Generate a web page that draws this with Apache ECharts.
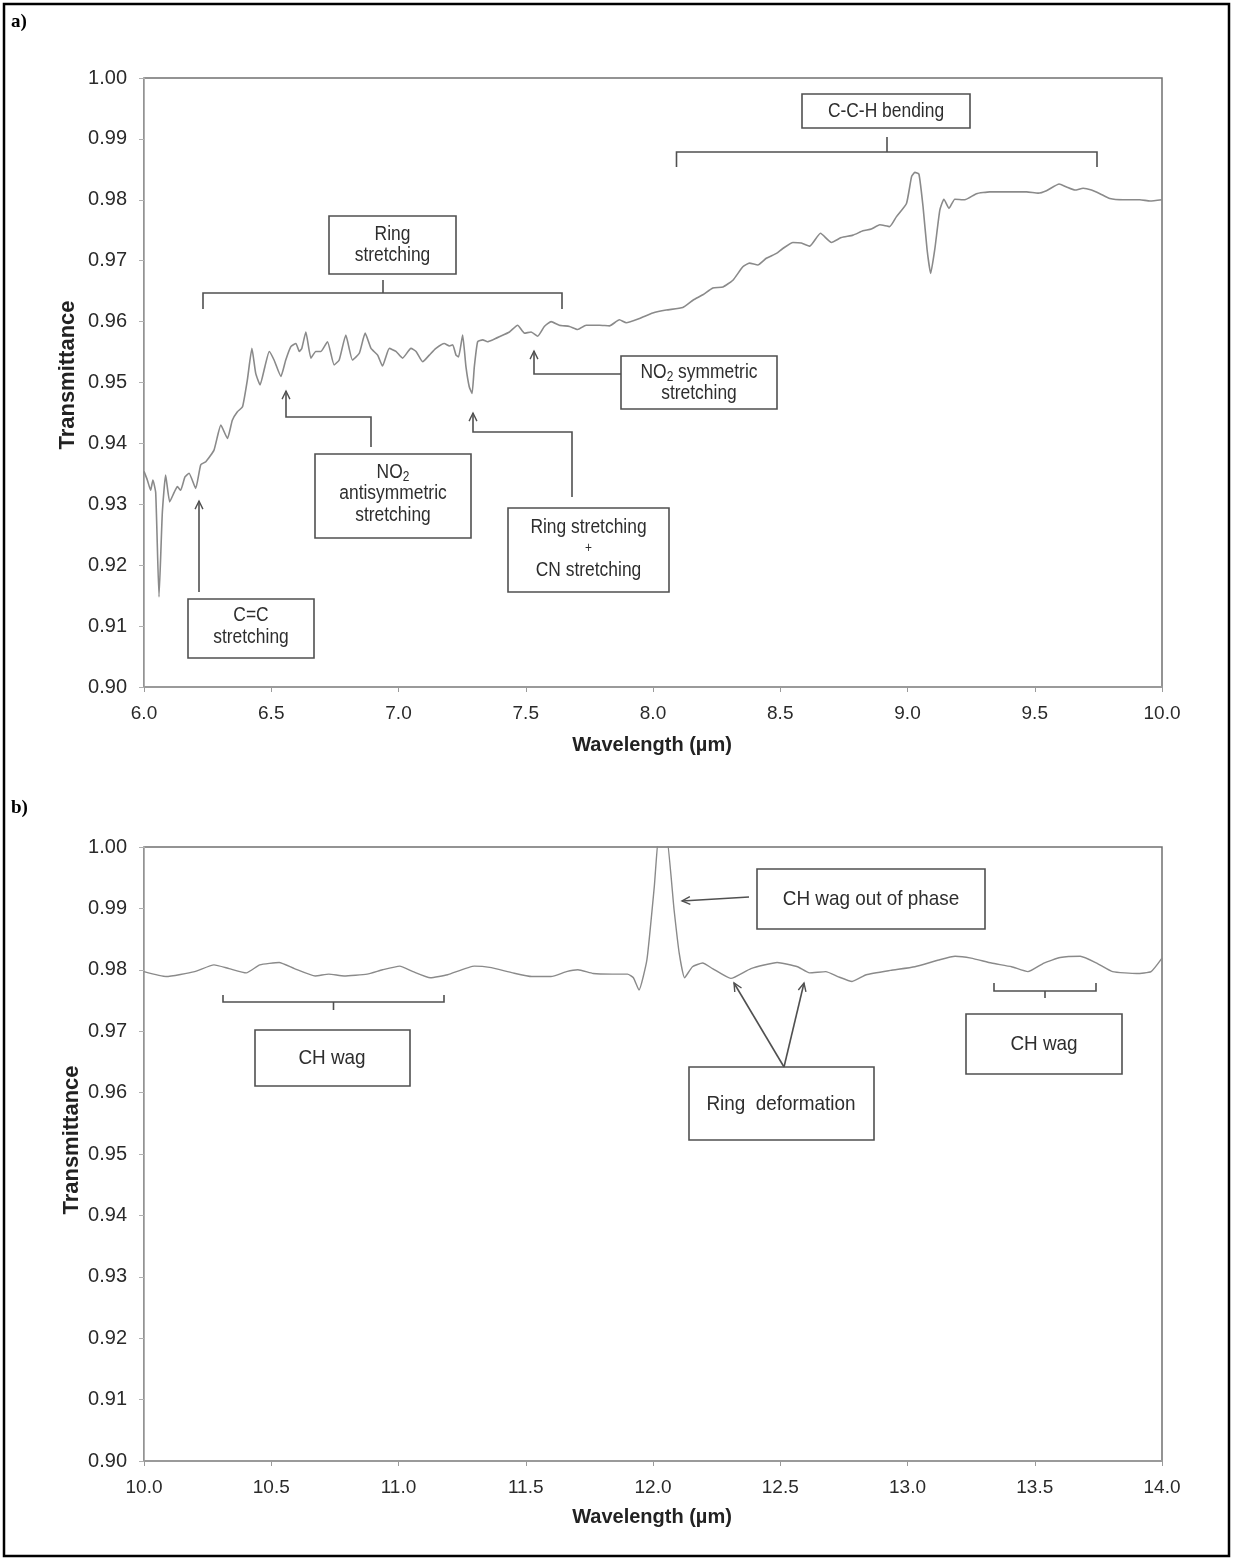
<!DOCTYPE html>
<html><head><meta charset="utf-8">
<script src="https://cdn.jsdelivr.net/npm/echarts@6/dist/echarts.min.js"></script>
<style>html,body{margin:0;padding:0;background:#fff}#c{width:1233px;height:1558px}</style>
</head><body><div id="c"></div>
<script>
// ---- data (wavelength in µm, transmittance) ----
const wlA = [6.000,6.013,6.026,6.035,6.046,6.059,6.072,6.085,6.101,6.118,6.131,6.144,6.161,6.177,6.203,6.223,6.243,6.275,6.302,6.328,6.347,6.367,6.387,6.406,6.424,6.439,6.456,6.475,6.492,6.511,6.538,6.557,6.577,6.597,6.610,6.620,6.636,6.656,6.675,6.695,6.721,6.747,6.767,6.793,6.819,6.846,6.869,6.892,6.918,6.937,6.964,6.990,7.016,7.049,7.069,7.095,7.121,7.147,7.180,7.200,7.213,7.226,7.236,7.252,7.265,7.278,7.289,7.298,7.311,7.331,7.350,7.370,7.396,7.436,7.468,7.495,7.521,7.547,7.573,7.600,7.632,7.672,7.704,7.737,7.790,7.829,7.868,7.895,7.947,7.999,8.052,8.117,8.157,8.196,8.235,8.275,8.314,8.353,8.379,8.412,8.445,8.485,8.510,8.550,8.583,8.616,8.658,8.701,8.740,8.786,8.825,8.858,8.891,8.930,8.956,8.996,9.016,9.029,9.045,9.061,9.077,9.091,9.107,9.127,9.143,9.163,9.186,9.225,9.271,9.323,9.415,9.468,9.513,9.546,9.596,9.625,9.658,9.690,9.723,9.756,9.795,9.848,9.913,9.953,10.000];
const tA = [0.9354,0.9340,0.9323,0.9340,0.9319,0.9148,0.9286,0.9348,0.9304,0.9319,0.9329,0.9323,0.9345,0.9351,0.9326,0.9365,0.9370,0.9389,0.9430,0.9408,0.9438,0.9452,0.9460,0.9504,0.9556,0.9515,0.9496,0.9526,0.9551,0.9537,0.9510,0.9537,0.9559,0.9564,0.9551,0.9556,0.9583,0.9540,0.9551,0.9551,0.9567,0.9529,0.9537,0.9578,0.9537,0.9548,0.9581,0.9556,0.9545,0.9527,0.9556,0.9551,0.9540,0.9556,0.9551,0.9534,0.9545,0.9556,0.9564,0.9560,0.9562,0.9545,0.9542,0.9578,0.9526,0.9493,0.9482,0.9526,0.9567,0.9570,0.9567,0.9570,0.9575,0.9583,0.9594,0.9581,0.9583,0.9576,0.9592,0.9600,0.9594,0.9592,0.9587,0.9594,0.9594,0.9593,0.9603,0.9598,0.9605,0.9614,0.9619,0.9623,0.9635,0.9644,0.9655,0.9657,0.9668,0.9690,0.9696,0.9693,0.9704,0.9712,0.9720,0.9730,0.9729,0.9724,0.9745,0.9730,0.9738,0.9742,0.9749,0.9752,0.9759,0.9756,0.9772,0.9794,0.9838,0.9845,0.9842,0.9789,0.9718,0.9679,0.9718,0.9783,0.9801,0.9786,0.9801,0.9800,0.9810,0.9813,0.9813,0.9813,0.9811,0.9815,0.9826,0.9821,0.9816,0.9819,0.9816,0.9810,0.9802,0.9800,0.9800,0.9798,0.9800];
const wlB = [10.000,10.087,10.199,10.275,10.334,10.402,10.455,10.531,10.591,10.673,10.726,10.786,10.877,10.937,11.005,11.057,11.125,11.193,11.298,11.358,11.449,11.524,11.599,11.660,11.705,11.765,11.840,11.900,11.923,11.945,11.976,12.005,12.026,12.049,12.083,12.103,12.124,12.155,12.195,12.234,12.306,12.385,12.488,12.568,12.615,12.679,12.726,12.782,12.838,12.933,13.029,13.123,13.187,13.250,13.330,13.409,13.473,13.536,13.600,13.679,13.743,13.806,13.901,13.957,14.000];
const tB = [0.9797,0.9789,0.9797,0.9808,0.9802,0.9795,0.9808,0.9812,0.9802,0.9790,0.9793,0.9790,0.9793,0.9800,0.9806,0.9797,0.9787,0.9792,0.9806,0.9804,0.9795,0.9789,0.9789,0.9797,0.9800,0.9794,0.9793,0.9793,0.9787,0.9767,0.9816,0.9935,1.0030,1.0030,0.9897,0.9827,0.9787,0.9805,0.9811,0.9802,0.9786,0.9802,0.9812,0.9805,0.9795,0.9797,0.9789,0.9781,0.9792,0.9799,0.9805,0.9816,0.9822,0.9819,0.9811,0.9805,0.9797,0.9811,0.9820,0.9822,0.9811,0.9797,0.9794,0.9797,0.9819];
const xTicksA = [6.0, 10.0, 0.5];
const xTicksB = [10.0, 14.0, 0.5];
const yTicks = [0.90, 1.00, 0.01];

const F = "'Liberation Sans', Arial, sans-serif";
const pairs = (xs, ys) => xs.map((x, i) => [x, ys[i]]);

function xAxis(idx, t) {
  return {
    type: 'value', gridIndex: idx, min: t[0], max: t[1], interval: t[2],
    axisLine: { show: true, lineStyle: { color: '#9a9a9a', width: 2 } },
    axisTick: { show: true, length: 5, lineStyle: { color: '#9a9a9a' } },
    splitLine: { show: false },
    axisLabel: { color: '#2a2a2a', fontSize: 19, fontFamily: F, margin: 17, formatter: v => v.toFixed(1) }
  };
}
function yAxis(idx) {
  return {
    type: 'value', gridIndex: idx, min: yTicks[0], max: yTicks[1], interval: yTicks[2],
    axisLine: { show: true, lineStyle: { color: '#b0b0b0', width: 1 } },
    axisTick: { show: true, length: 5, lineStyle: { color: '#b0b0b0' } },
    splitLine: { show: false },
    axisLabel: { color: '#2a2a2a', fontSize: 20, fontFamily: F, margin: 17, formatter: v => v.toFixed(2) }
  };
}

// ---- annotation drawing helpers (pixel layout) ----
const G = [];
const STK = '#505050';
function box(x1, y1, x2, y2) {
  G.push({ type: 'rect', z: 50, shape: { x: x1, y: y1, width: x2 - x1, height: y2 - y1 },
    style: { fill: '#fff', stroke: STK, lineWidth: 1.6 } });
}
function poly(pts, w) {
  G.push({ type: 'polyline', z: 50, shape: { points: pts }, style: { fill: null, stroke: STK, lineWidth: w || 1.6 } });
}
function head(px, py, x, y) {
  const dx = x - px, dy = y - py, L = Math.hypot(dx, dy), ux = dx / L, uy = dy / L;
  const a = 0.45, s = 9;
  const c = Math.cos(a), sn = Math.sin(a);
  const w1 = [x - s * (ux * c - uy * sn), y - s * (uy * c + ux * sn)];
  const w2 = [x - s * (ux * c + uy * sn), y - s * (uy * c - ux * sn)];
  poly([w1, [x, y], w2], 1.4);
}
function arrow(pts) {
  poly(pts);
  const n = pts.length;
  head(pts[n - 2][0], pts[n - 2][1], pts[n - 1][0], pts[n - 1][1]);
}
function txt(x, y, s, o) {
  o = o || {};
  G.push({ type: 'text', z: 60, x: x, y: y, rotation: o.rot || 0, scaleX: o.sx || 1,
    style: { text: s, fill: o.color || '#2e2e2e', font: o.font || ('19px ' + F),
      textAlign: o.align || 'center', textVerticalAlign: 'middle', rich: o.rich } });
}
const SXA = 0.85, SXB = 0.9;
const ta = (x, y, s, extra) => txt(x, y, s, Object.assign({ sx: SXA, font: '20.5px ' + F }, extra || {}));
const tb = (x, y, s) => txt(x, y, s, { sx: SXB, font: '21px ' + F });
const subRich = { a: { fontSize: 20.5, fontFamily: F, fill: '#2e2e2e' }, s: { fontSize: 14, fontFamily: F, fill: '#2e2e2e', padding: [10, 0, 0, 0] } };

// outer frame and panel tags
G.push({ type: 'rect', z: 40, shape: { x: 4, y: 4, width: 1225, height: 1552 }, style: { fill: null, stroke: '#000', lineWidth: 2.5 } });
txt(11, 22, 'a)', { font: 'bold 19px "Liberation Serif", serif', align: 'left', color: '#000' });
txt(11, 808, 'b)', { font: 'bold 19px "Liberation Serif", serif', align: 'left', color: '#000' });

// axis titles
txt(68, 375, 'Transmittance', { font: 'bold 22px ' + F, rot: Math.PI / 2, color: '#222' });
txt(72, 1140, 'Transmittance', { font: 'bold 22px ' + F, rot: Math.PI / 2, color: '#222' });
txt(652, 745, 'Wavelength (µm)', { font: 'bold 20px ' + F, color: '#222' });
txt(652, 1517, 'Wavelength (µm)', { font: 'bold 20px ' + F, color: '#222' });

// panel a annotations
box(329, 216, 456, 274); ta(392.5, 234, 'Ring'); ta(392.5, 255, 'stretching');
poly([[203, 309], [203, 293], [562, 293], [562, 309]]); poly([[383, 293], [383, 280]]);
box(802, 94, 970, 128); ta(886, 111, 'C-C-H bending');
poly([[676.5, 167], [676.5, 152], [1097, 152], [1097, 167]]); poly([[887, 152], [887, 137]]);
box(621, 356, 777, 409);
G.push({ type: 'text', z: 60, x: 699, y: 372, scaleX: SXA, style: { text: '{a|NO}{s|2}{a| symmetric}', rich: subRich, textAlign: 'center', textVerticalAlign: 'middle' } });
ta(699, 393, 'stretching');
arrow([[621, 374], [534, 374], [534, 351]]);
box(508, 508, 669, 592); ta(588.5, 527, 'Ring stretching'); ta(588.5, 548, '+', { font: '14px ' + F }); ta(588.5, 570, 'CN stretching');
arrow([[572, 497], [572, 432], [473, 432], [473, 413]]);
box(315, 454, 471, 538);
G.push({ type: 'text', z: 60, x: 393, y: 472, scaleX: SXA, style: { text: '{a|NO}{s|2}', rich: subRich, textAlign: 'center', textVerticalAlign: 'middle' } });
ta(393, 493, 'antisymmetric'); ta(393, 515, 'stretching');
arrow([[371, 447], [371, 417], [286, 417], [286, 391]]);
box(188, 599, 314, 658); ta(251, 615, 'C=C'); ta(251, 637, 'stretching');
arrow([[199, 592], [199, 501]]);

// panel b annotations
poly([[223, 995], [223, 1002], [444, 1002], [444, 995]]); poly([[333.5, 1002], [333.5, 1010]]);
box(255, 1030, 410, 1086); tb(332, 1058, 'CH wag');
box(757, 869, 985, 929); tb(871, 899, 'CH wag out of phase');
arrow([[749, 897], [682, 901]]);
poly([[994, 983], [994, 991], [1096, 991], [1096, 983]]); poly([[1045, 991], [1045, 998]]);
box(966, 1014, 1122, 1074); tb(1044, 1044, 'CH wag');
box(689, 1067, 874, 1140); tb(781, 1104, 'Ring  deformation');
arrow([[784, 1067], [734, 983]]); arrow([[784, 1067], [804, 983]]);

const chart = echarts.init(document.getElementById('c'));
chart.setOption({
  animation: false,
  backgroundColor: '#fff',
  grid: [
    { left: 144, top: 78, width: 1018, height: 609, show: true, borderColor: '#707070', borderWidth: 1.5, backgroundColor: 'transparent' },
    { left: 144, top: 847, width: 1018, height: 614, show: true, borderColor: '#707070', borderWidth: 1.5, backgroundColor: 'transparent' }
  ],
  xAxis: [xAxis(0, xTicksA), xAxis(1, xTicksB)],
  yAxis: [yAxis(0), yAxis(1)],
  series: [
    { type: 'line', xAxisIndex: 0, yAxisIndex: 0, data: pairs(wlA, tA), showSymbol: false, smooth: 0.15, clip: true,
      lineStyle: { color: '#8a8a8a', width: 1.6 } },
    { type: 'line', xAxisIndex: 1, yAxisIndex: 1, data: pairs(wlB, tB), showSymbol: false, smooth: 0.15, clip: true,
      lineStyle: { color: '#8a8a8a', width: 1.4 } }
  ],
  graphic: G
});
</script></body></html>
